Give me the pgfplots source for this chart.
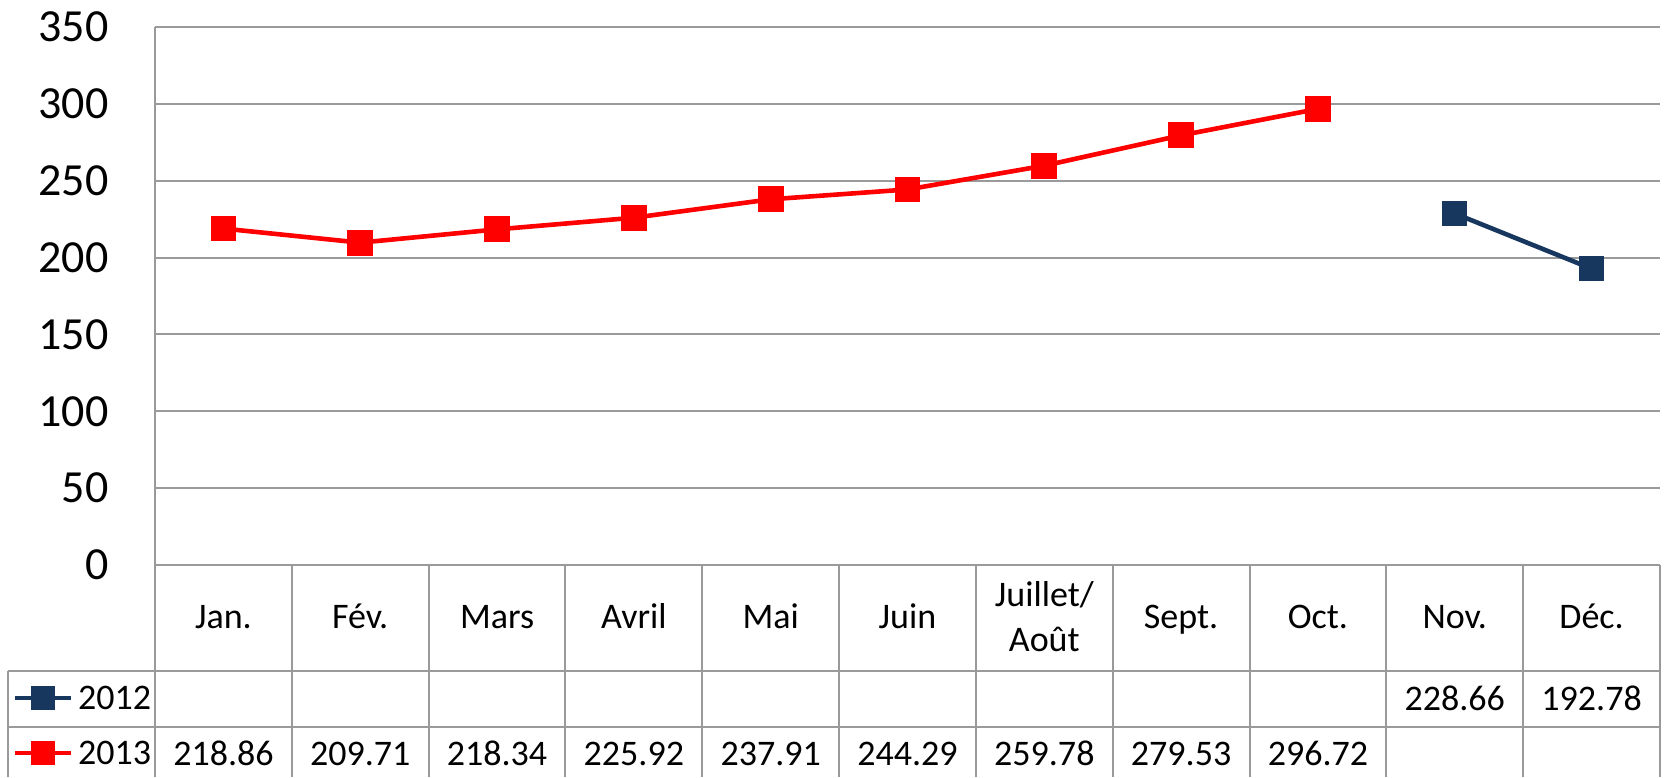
\documentclass[border=0pt]{standalone}
\usepackage{fontspec}
\setmainfont{Carlito}
\usepackage{pgfplots}
\pgfplotsset{compat=1.18}
\definecolor{gridc}{HTML}{9A9A9A}
\definecolor{navy}{HTML}{17375E}
\definecolor{xred}{HTML}{FF0000}
\newcommand\tabfont{\fontsize{18}{22.5}\selectfont}
\begin{document}
\begin{tikzpicture}
\useasboundingbox (0,0) rectangle (832.5pt,388.5pt);
\begin{axis}[
  at={(77.5pt,106pt)}, anchor=south west,
  scale only axis, width=752.5pt, height=269pt,
  xmin=-0.5, xmax=10.5, ymin=0, ymax=350,
  ytick={0,50,...,350},
  xtick={0,...,10},
  xticklabels={\strut Jan.,\strut Fév.,\strut Mars,\strut Avril,\strut Mai,\strut Juin,{\strut Juillet/\\\strut Août},\strut Sept.,\strut Oct.,\strut Nov.,\strut Déc.},
  axis line style={draw=none},
  major tick length=0pt,
  ymajorgrids, grid style={draw=gridc, line width=1pt},
  clip=false,
  /pgf/number format/assume math mode=true,
  yticklabel style={font=\fontsize{23}{28}\selectfont, inner sep=0pt, xshift=-23pt},
  xticklabel style={font=\tabfont, align=center, anchor=center, yshift=-27.4pt, inner sep=0pt},
  legend style={at={(-0.09435,-0.19610)}, anchor=north west, draw=none, fill=none,
    inner sep=0pt, outer sep=0pt, row sep=0pt, column sep=2.5pt, font=\tabfont,
    nodes={inner sep=0pt, text height=19.45pt, text depth=8.05pt}},
  legend cell align=left,
  legend image code/.code={\draw[mark size=5pt, line width=2pt, mark repeat=2, mark phase=2] plot coordinates {(0pt,0pt) (14pt,0pt) (28pt,0pt)};},
]
\addplot[navy, line width=2.3pt, mark=square*, mark size=5pt, mark options={solid}] coordinates {(9,228.66) (10,192.78)};
\addlegendentry{2012}
\addplot[xred, line width=2.3pt, mark=square*, mark size=5.3pt, mark options={solid}] coordinates {
(0,218.86) (1,209.71) (2,218.34) (3,225.92) (4,237.91) (5,244.29) (6,259.78) (7,279.53) (8,296.72)};
\addlegendentry{2013}
\end{axis}
% data table grid
\draw[gridc, line width=1pt] (77.5pt,0pt) -- (77.5pt,375pt);
\draw[gridc, line width=1pt] (77.5pt,106pt) -- (830pt,106pt);
\draw[gridc, line width=1pt] (4pt,53pt) -- (830pt,53pt);
\draw[gridc, line width=1pt] (4pt,25pt) -- (830pt,25pt);
\draw[gridc, line width=1pt] (4pt,0pt) -- (4pt,53pt);
\foreach \k in {1,...,11} {
  \draw[gridc, line width=1pt] ({77.5pt+\k*68.409pt},0pt) -- ({77.5pt+\k*68.409pt},106pt);
}
% data table values
\foreach \i/\v in {9/228.66,10/192.78} {
  \node[font=\tabfont, anchor=base, inner sep=0pt] at ({77.5pt+(\i+0.5)*68.409pt},33.5pt) {\v};
}
\foreach \i/\v in {0/218.86,1/209.71,2/218.34,3/225.92,4/237.91,5/244.29,6/259.78,7/279.53,8/296.72} {
  \node[font=\tabfont, anchor=base, inner sep=0pt] at ({77.5pt+(\i+0.5)*68.409pt},6pt) {\v};
}
\end{tikzpicture}
\end{document}
